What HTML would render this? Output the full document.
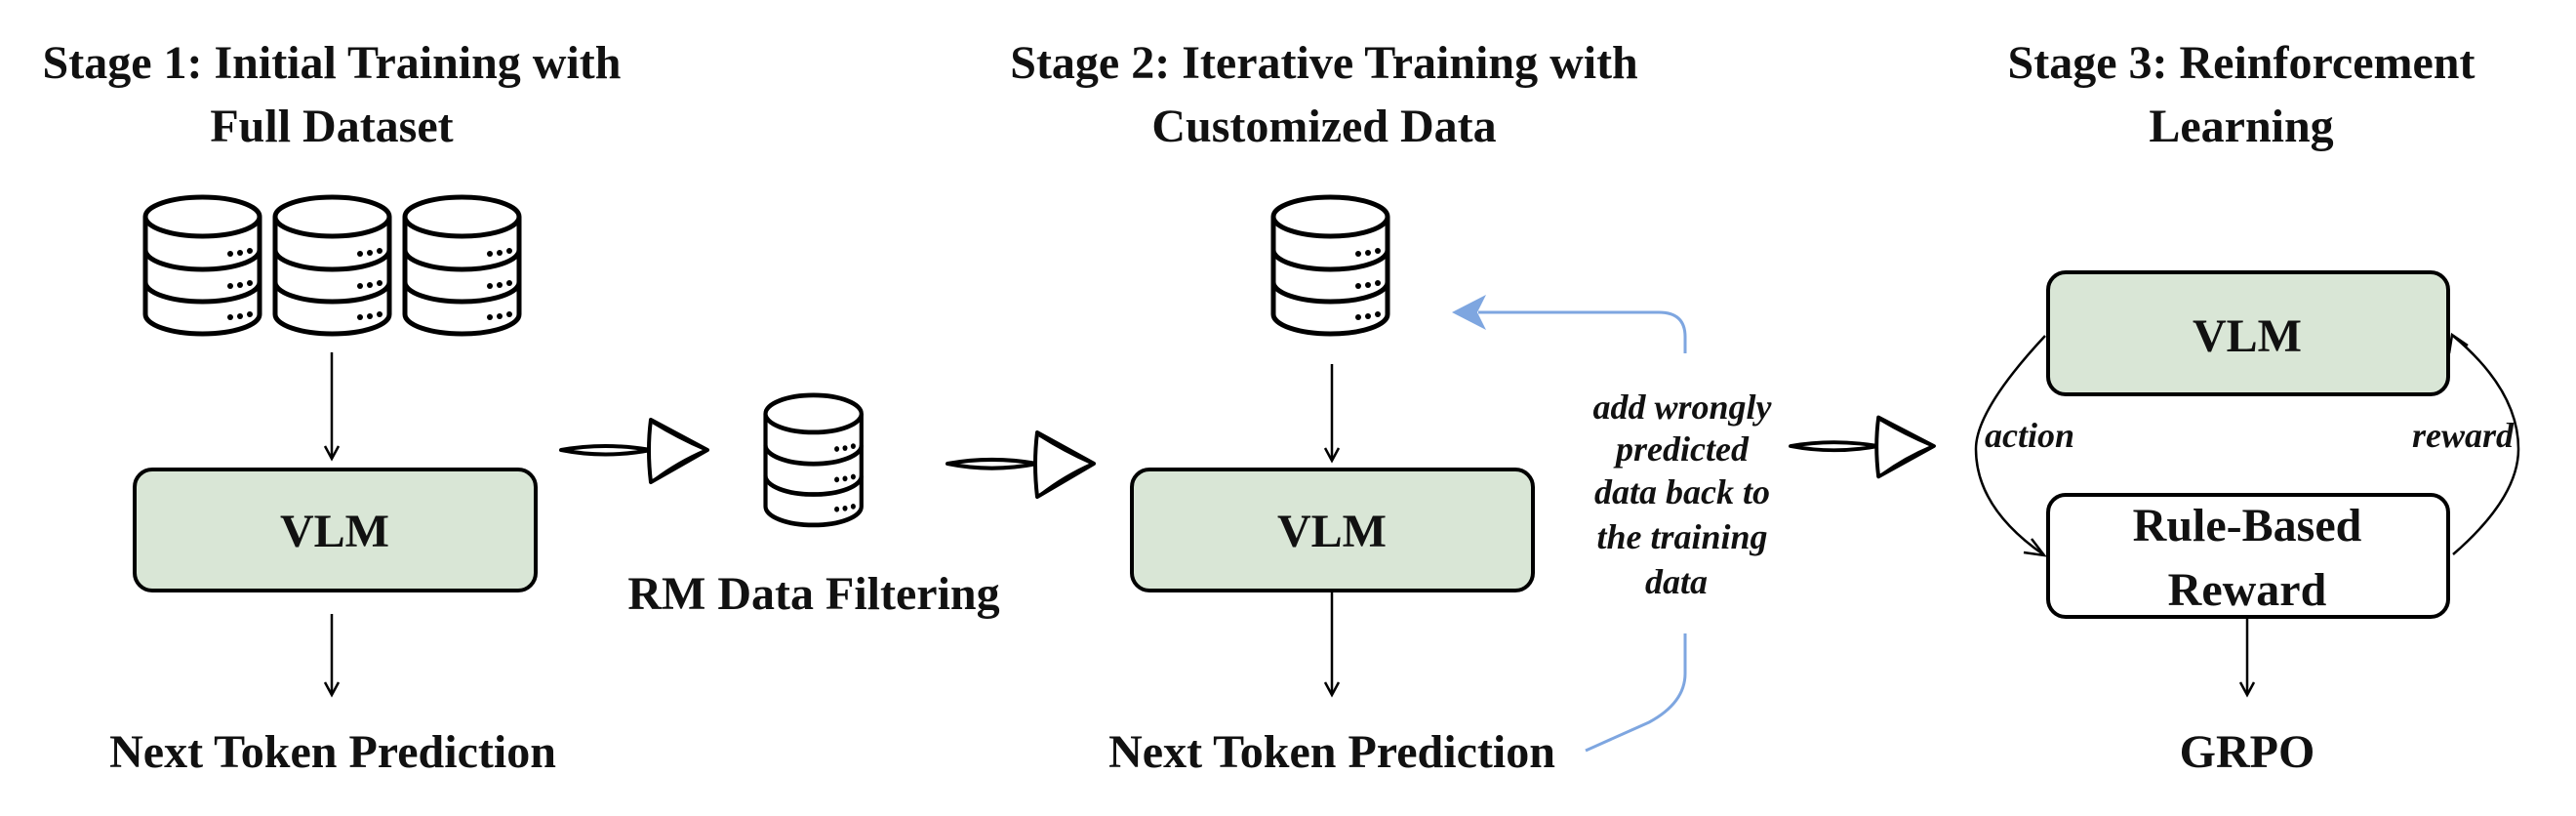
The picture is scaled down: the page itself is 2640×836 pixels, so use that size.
<!DOCTYPE html>
<html><head><meta charset="utf-8"><style>
html,body{margin:0;padding:0;background:#fff;}
svg{display:block;}
text{font-family:"Liberation Serif",serif;font-weight:bold;fill:#111;}
.t{font-size:48px;}
.i{font-size:36px;font-style:italic;}
</style></head><body>
<svg width="2640" height="836" viewBox="0 0 2640 836" xmlns="http://www.w3.org/2000/svg">
<defs>
<g id="db">
<path d="M3,22 L3,122 A58.5,20 0 0 0 120,122 L120,22" fill="#fff" stroke="#000" stroke-width="5"/>
<ellipse cx="61.5" cy="22" rx="58.5" ry="20" fill="#fff" stroke="#000" stroke-width="5"/>
<path d="M3,56 A58.5,20 0 0 0 120,56 M3,89 A58.5,20 0 0 0 120,89" fill="none" stroke="#000" stroke-width="5"/>
<g fill="#000"><circle cx="90" cy="60" r="3"/><circle cx="100" cy="59" r="3"/><circle cx="110" cy="57" r="3"/>
<circle cx="90" cy="93" r="3"/><circle cx="100" cy="92" r="3"/><circle cx="110" cy="90" r="3"/>
<circle cx="90" cy="125" r="3"/><circle cx="100" cy="124" r="3"/><circle cx="110" cy="122" r="3"/></g>
</g>
<g id="sk">
<path d="M0,0 Q45,-8 92,0 Q45,9 0,0 Z" fill="none" stroke="#000" stroke-width="4" stroke-linejoin="round"/>
<path d="M92,-31 L150,0 L92,33 Q88,0 92,-31 Z" fill="#fff" stroke="#000" stroke-width="4" stroke-linejoin="round"/>
<path d="M94,-28 Q120,-12 148,0 Q120,12 96,30" fill="none" stroke="#000" stroke-width="2.5"/>
</g>
<marker id="ah" markerWidth="10" markerHeight="10" refX="9" refY="5" orient="auto" markerUnits="userSpaceOnUse">
<path d="M0,0 L10,5 L0,10" fill="none" stroke="#000" stroke-width="2.5"/></marker>
</defs>

<!-- titles -->
<text class="t" x="340" y="80" text-anchor="middle">Stage 1: Initial Training with</text>
<text class="t" x="340" y="145" text-anchor="middle">Full Dataset</text>
<text class="t" x="1357" y="80" text-anchor="middle">Stage 2: Iterative Training with</text>
<text class="t" x="1357" y="145" text-anchor="middle">Customized Data</text>
<text class="t" x="2297" y="80" text-anchor="middle">Stage 3: Reinforcement</text>
<text class="t" x="2297" y="145" text-anchor="middle">Learning</text>

<!-- stage 1 -->
<use href="#db" x="146" y="200"/>
<use href="#db" x="279" y="200"/>
<use href="#db" x="412" y="200"/>
<g stroke="#000" stroke-width="2.5" fill="none">
<line x1="340" y1="361" x2="340" y2="468"/><path d="M333,457 L340,470 L347,457"/>
<line x1="340" y1="629" x2="340" y2="710"/><path d="M333,699 L340,712 L347,699"/>
</g>
<rect x="138" y="481" width="411" height="124" rx="18" fill="#d9e6d6" stroke="#000" stroke-width="4"/>
<text class="t" x="343" y="560" text-anchor="middle">VLM</text>
<text class="t" x="341" y="786" text-anchor="middle">Next Token Prediction</text>

<!-- middle -->
<use href="#sk" transform="translate(575,461) scale(1,1)"/>
<use href="#db" transform="translate(782,403) scale(0.84,0.95)"/>
<text class="t" x="834" y="624" text-anchor="middle">RM Data Filtering</text>
<use href="#sk" transform="translate(971,475) scale(1,1.03)"/>

<!-- stage 2 -->
<use href="#db" x="1302" y="200"/>
<g stroke="#000" stroke-width="2.5" fill="none">
<line x1="1365" y1="373" x2="1365" y2="470"/><path d="M1358,459 L1365,472 L1372,459"/>
<line x1="1365" y1="606" x2="1365" y2="710"/><path d="M1358,699 L1365,712 L1372,699"/>
</g>
<rect x="1160" y="481" width="411" height="124" rx="18" fill="#d9e6d6" stroke="#000" stroke-width="4"/>
<text class="t" x="1365" y="560" text-anchor="middle">VLM</text>
<text class="t" x="1365" y="786" text-anchor="middle">Next Token Prediction</text>

<!-- blue feedback -->
<path d="M1727,362 L1727,345 Q1727,320 1700,320 L1515,320" fill="none" stroke="#7ea6e0" stroke-width="3"/>
<path d="M1488,320 L1523,302 L1514,320 L1523,338 Z" fill="#7ea6e0"/>
<path d="M1625,769 L1690,740 Q1727,720 1727,690 L1727,649" fill="none" stroke="#7ea6e0" stroke-width="3"/>
<g class="i" text-anchor="middle">
<text class="i" x="1724" y="429" text-anchor="middle">add wrongly</text>
<text class="i" x="1724" y="472" text-anchor="middle">predicted</text>
<text class="i" x="1724" y="516" text-anchor="middle">data back to</text>
<text class="i" x="1724" y="562" text-anchor="middle">the training</text>
<text class="i" x="1718" y="608" text-anchor="middle">data</text>
</g>
<use href="#sk" transform="translate(1835,457) scale(0.98,0.95)"/>

<!-- stage 3 -->
<rect x="2099" y="279" width="410" height="125" rx="18" fill="#d9e6d6" stroke="#000" stroke-width="4"/>
<text class="t" x="2303" y="360" text-anchor="middle">VLM</text>
<rect x="2099" y="507" width="410" height="125" rx="18" fill="#fff" stroke="#000" stroke-width="4"/>
<text class="t" x="2303" y="554" text-anchor="middle">Rule-Based</text>
<text class="t" x="2303" y="620" text-anchor="middle">Reward</text>
<g stroke="#000" stroke-width="2.5" fill="none">
<path d="M2096,344 Q2025,420 2025,460 Q2025,520 2094,568"/>
<path d="M2082,552 L2095,569 L2074,566"/>
<path d="M2514,568 Q2581,510 2581,460 Q2581,400 2514,344"/>
<path d="M2510,362 L2513,343 L2529,354"/>
<line x1="2303" y1="632" x2="2303" y2="710"/><path d="M2296,699 L2303,712 L2310,699"/>
</g>
<text class="i" x="2034" y="458">action</text>
<text class="i" x="2576" y="458" text-anchor="end">reward</text>
<text class="t" x="2303" y="786" text-anchor="middle">GRPO</text>
</svg>
</body></html>
